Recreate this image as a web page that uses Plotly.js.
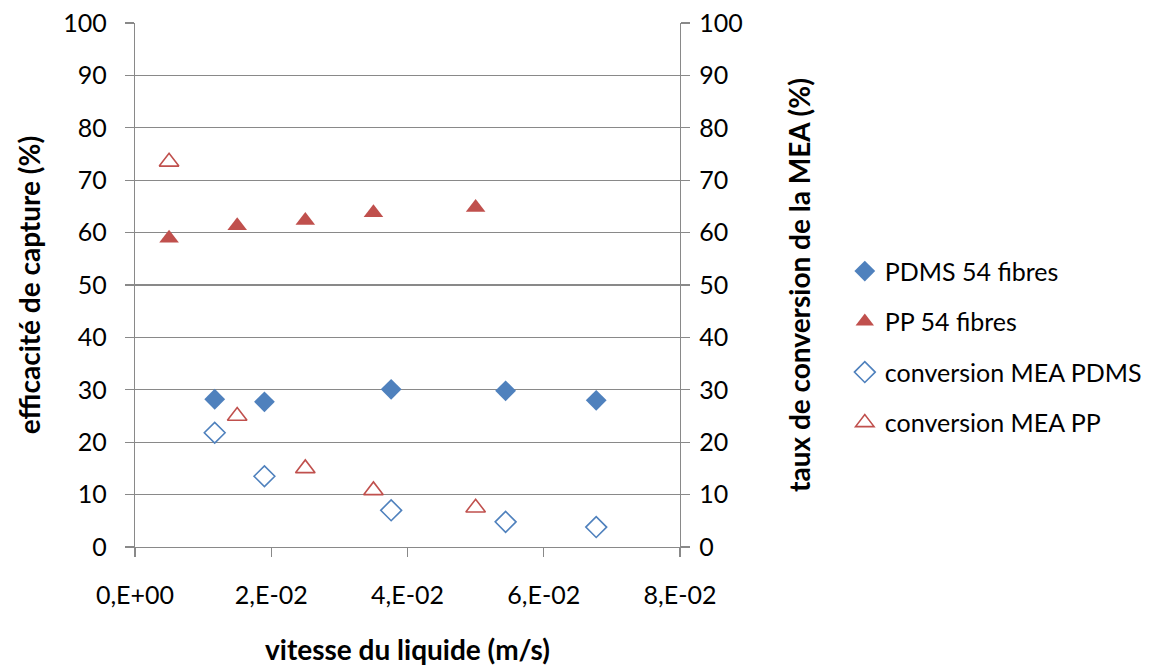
<!DOCTYPE html>
<html>
<head>
<meta charset="utf-8">
<script src="https://cdn.plot.ly/plotly-3.0.1.min.js"></script>
<style>html,body{margin:0;padding:0;background:#fff;}#chart{width:1158px;height:666px;}</style>
</head>
<body>
<div id="chart"></div>
<script>
// Data
const pdmsX = [0.0117, 0.0190, 0.0376, 0.0544, 0.0677];
const pdmsEff = [28.2, 27.7, 30.1, 29.8, 28.0];
const ppX = [0.0050, 0.0150, 0.0250, 0.0350, 0.0500];
const ppEff = [58.9, 61.3, 62.3, 63.8, 64.8];
const pdmsConv = [21.8, 13.5, 7.0, 4.8, 3.8];
const ppConv = [73.5, 25.0, 15.0, 10.8, 7.5];
const xTickVals = [0, 0.02, 0.04, 0.06, 0.08];
const xTickText = ["0,E+00", "2,E-02", "4,E-02", "6,E-02", "8,E-02"];
const seriesNames = ["PDMS 54 fibres", "PP 54 fibres", "conversion MEA PDMS", "conversion MEA PP"];

const blue = "#4F81BD", red = "#C0504D", grid = "#898989";
const font = "Lato, 'Open Sans', sans-serif";

const traces = [
  {x: pdmsX, y: pdmsEff, name: seriesNames[0], legendgroup: "a", mode: "markers", type: "scatter",
   marker: {symbol: "diamond", size: 16, color: blue, line: {width: 0}}},
  {x: ppX, y: ppEff, name: seriesNames[1], legendgroup: "b", mode: "markers", type: "scatter",
   marker: {symbol: "triangle-up", size: 17, color: red, line: {width: 0}}},
  {x: pdmsX, y: pdmsConv, name: seriesNames[2], legendgroup: "c", mode: "markers", type: "scatter", yaxis: "y2",
   marker: {symbol: "diamond-open", size: 16, color: blue, line: {width: 1.6, color: blue}}},
  {x: ppX, y: ppConv, name: seriesNames[3], legendgroup: "d", mode: "markers", type: "scatter", yaxis: "y2",
   marker: {symbol: "triangle-up-open", size: 17, color: red, line: {width: 1.6, color: red}}}
];

const layout = {
  width: 1158, height: 666,
  margin: {l: 135, r: 477, t: 23, b: 119},
  paper_bgcolor: "#fff", plot_bgcolor: "#fff",
  font: {family: font, size: 25, color: "#000"},
  showlegend: true,
  legend: {x: 1.3, y: 0.382, xanchor: "left", yanchor: "middle", font: {size: 25, family: font},
           tracegroupgap: 15, itemwidth: 30, borderwidth: 0, bgcolor: "rgba(0,0,0,0)"},
  xaxis: {range: [0, 0.08], tickvals: xTickVals, ticktext: xTickText,
          showgrid: false, zeroline: false, showline: true, linecolor: grid, linewidth: 1.3,
          ticks: "outside", ticklen: 9, tickcolor: grid, tickwidth: 1.3,
          tickfont: {size: 25, family: font}, ticklabelstandoff: 17,
          title: {text: "<b>vitesse du liquide (m/s)</b>", font: {size: 28, family: font}, standoff: 32}},
  yaxis: {range: [0, 100], dtick: 10, showgrid: true, gridcolor: grid, gridwidth: 1.3,
          zeroline: false, showline: true, linecolor: grid, linewidth: 1.3,
          ticks: "outside", ticklen: 9, tickcolor: grid, tickwidth: 1.3,
          tickfont: {size: 25, family: font}, ticklabelstandoff: 13,
          title: {text: "<b>efficacité de capture (%)</b>", font: {size: 28, family: font}, standoff: 14}},
  yaxis2: {range: [0, 100], dtick: 10, overlaying: "y", side: "right", showgrid: false,
          zeroline: false, showline: true, linecolor: grid, linewidth: 1.3,
          ticks: "outside", ticklen: 9, tickcolor: grid, tickwidth: 1.3,
          tickfont: {size: 25, family: font}, ticklabelstandoff: 4,
          title: {text: "<b>taux de conversion de la MEA (%)</b>", font: {size: 28, family: font}, standoff: 48}}
};

Plotly.newPlot("chart", traces, layout, {displayModeBar: false, staticPlot: true});
</script>
</body>
</html>
